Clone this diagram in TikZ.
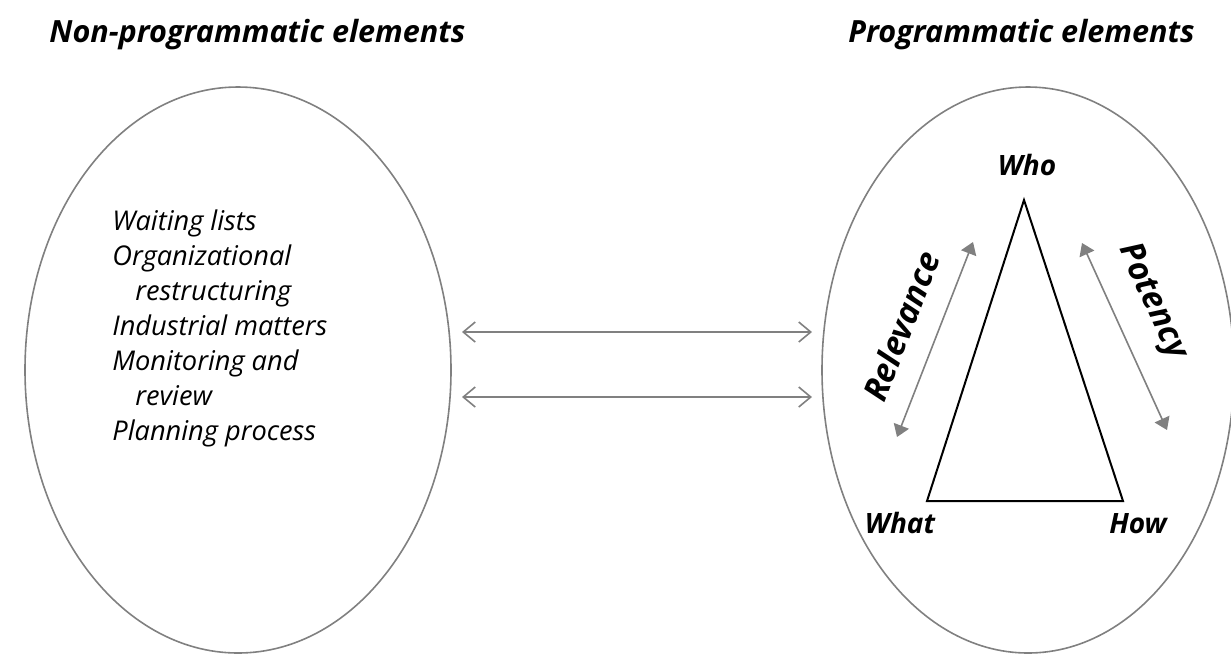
\documentclass[tikz,border=0pt]{standalone}
\usepackage{fontspec}
\setmainfont{Open Sans}
\usetikzlibrary{arrows.meta}
\usetikzlibrary{shapes.geometric}

\begin{document}
\begin{tikzpicture}[x=0.5pt, y=-0.5pt,
oval/.style={draw=black!50, line width=0.8pt, ellipse, inner sep=0pt},
link/.style={black!50, line width=0.8pt, {Straight Barb[length=6pt,width=10pt]}-{Straight Barb[length=6pt,width=10pt]}},
side/.style={black!50, line width=0.8pt, {Triangle[length=6pt,width=8pt]}-{Triangle[length=6pt,width=8pt]}},
title/.style={font=\fontsize{15.3}{18}\selectfont\bfseries\itshape, inner sep=0pt},
corner/.style={font=\fontsize{14}{17}\selectfont\bfseries\itshape, inner sep=0pt},
quality/.style={font=\fontsize{16.5}{19}\selectfont\bfseries\itshape, text=black, sloped, above=8pt},
issues/.style={font=\fontsize{13.6}{17.5}\selectfont\itshape, align=left, inner sep=0pt}]

\useasboundingbox (0,0) rectangle (1231,655);

% TITLES
\node[title, anchor=base west] (nonprogtitle) at (49,42) {Non-programmatic elements};
\node[title, anchor=base west] (progtitle) at (848,42) {Programmatic elements};

% the two sets
\node[oval, minimum width=213pt, minimum height=283pt] (nonprog) at (238,370) {};
\node[oval, minimum width=206pt, minimum height=283pt] (prog) at (1028,370) {};

\node[issues, anchor=north west] (issues) at (112,209) {Waiting lists\\
Organizational\\
\hspace*{11.5pt}restructuring\\
Industrial matters\\
Monitoring and\\
\hspace*{11.5pt}review\\
Planning process};

% links between the sets
\coordinate (linkAl) at (462,332);
\coordinate (linkAr) at (812,332);
\coordinate (linkBl) at (462,397);
\coordinate (linkBr) at (812,397);
\draw[link] (linkAl) -- (linkAr);
\draw[link] (linkBl) -- (linkBr);

% TRIANGLE
\coordinate (top) at (1024,200);
\coordinate (left) at (927,501);
\coordinate (right) at (1123,501);
\draw[black, line width=1pt] (top) -- (left) -- (right) -- cycle;

\node[corner, anchor=base] (who) at (1027,175) {Who};
\node[corner, anchor=base] (what) at (900,533) {What};
\node[corner, anchor=base] (how) at (1138,533) {How};

% sides
\coordinate (relA) at (897,437);
\coordinate (relB) at (973,242);
\coordinate (potA) at (1082,243);
\coordinate (potB) at (1167,430);
\draw[side] (relA) -- node[quality] (relevance) {Relevance} (relB);
\draw[side] (potA) -- node[quality, pos=0.4] (potency) {Potency} (potB);

\end{tikzpicture}
\end{document}
